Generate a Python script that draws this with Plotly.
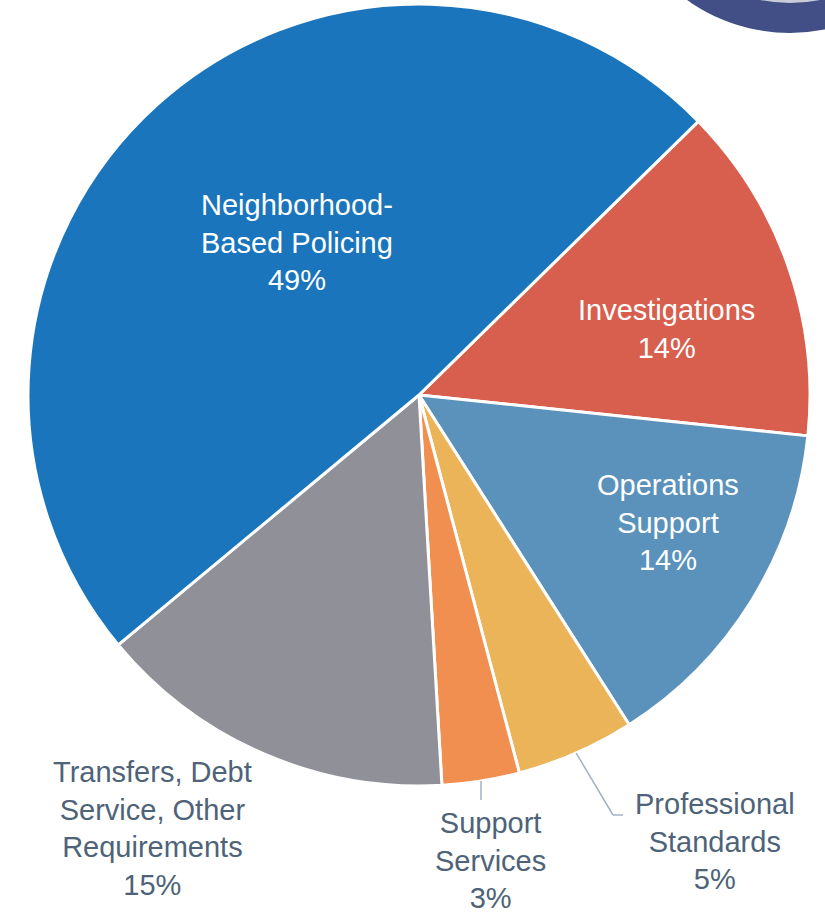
import plotly.graph_objects as go
import math

W, H = 825, 914

# Data
labels = ["Investigations", "Operations Support", "Professional Standards",
          "Support Services", "Transfers, Debt Service, Other Requirements",
          "Neighborhood-Based Policing"]
label_text = ["Investigations", "Operations<br>Support", "Professional<br>Standards",
              "Support<br>Services", "Transfers, Debt<br>Service, Other<br>Requirements",
              "Neighborhood-<br>Based Policing"]
values = [14.0, 14.3, 4.9, 3.2, 14.9, 48.7]
colors = ["#d85e4e", "#5a92bb", "#ebb459", "#f08f4f", "#909099", "#1a75bc"]

# Layout (pixels)
cx, cy, R = 419, 395, 391
rotation = 45.6
label_pos = [(666, 329), (668, 522), (715, 841), (490, 860), (152, 828), (297, 242)]
inside = [True, True, False, False, False, True]
leader_end = {2: [(613, 815), (623, 815)], 3: [(481, 800)]}

def px(x):
    return x / W

def py(y):
    return 1 - y / H

fig = go.Figure(go.Pie(
    labels=labels, values=values, sort=False, direction="clockwise",
    rotation=rotation, textinfo="none", hoverinfo="label+percent",
    marker=dict(colors=colors, line=dict(color="white", width=3)),
    domain=dict(x=[px(cx - R), px(cx + R)], y=[py(cy + R), py(cy - R)]),
    showlegend=False,
))

total = sum(values)
annotations = []
shapes = []
cum = 0
for i, v in enumerate(values):
    pct = round(100 * v / total)
    x, y = label_pos[i]
    annotations.append(dict(
        x=px(x), y=py(y), xref="paper", yref="paper",
        xanchor="center", yanchor="middle", showarrow=False,
        text=f"{label_text[i]}<br>{pct}%",
        font=dict(family="Liberation Sans, Arial", size=29,
                  color="white" if inside[i] else "#4e6378"),
    ))
    mid = rotation + 360 * (cum + v / 2) / total
    cum += v
    if i in leader_end:
        a = math.radians(mid)
        sx = cx + R * math.sin(a)
        sy = cy - R * math.cos(a)
        pts = [(sx, sy)] + leader_end[i]
        for (x0, y0), (x1, y1) in zip(pts[:-1], pts[1:]):
            shapes.append(dict(type="line", xref="paper", yref="paper",
                               x0=px(x0), y0=py(y0), x1=px(x1), y1=py(y1),
                               line=dict(color="#a3b2c2", width=1.5)))

# decorative circle in the top-right corner
ccx, ccy, cr = 790, -144, 177
shapes.append(dict(type="circle", xref="paper", yref="paper",
                   x0=px(ccx - cr), x1=px(ccx + cr), y0=py(ccy + cr), y1=py(ccy - cr),
                   fillcolor="#414f86", line=dict(width=0), layer="above"))
cr2 = 147
shapes.append(dict(type="circle", xref="paper", yref="paper",
                   x0=px(ccx - cr2), x1=px(ccx + cr2), y0=py(ccy + cr2), y1=py(ccy - cr2),
                   fillcolor="#c9ccd6", line=dict(width=0), layer="above"))

fig.update_layout(
    width=W, height=H, margin=dict(l=0, r=0, t=0, b=0),
    paper_bgcolor="white", plot_bgcolor="white",
    annotations=annotations, shapes=shapes,
)

fig.write_html("out.html", config={"displayModeBar": False},
               post_script="document.body.style.margin='0';document.body.style.overflow='hidden';")
